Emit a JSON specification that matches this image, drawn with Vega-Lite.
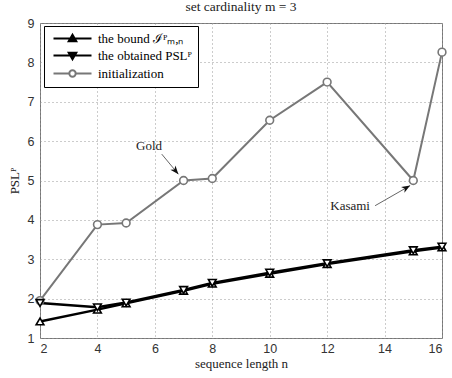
{
  "$schema": "https://vega.github.io/schema/vega-lite/v6.json",
  "width": 402,
  "height": 315,
  "autosize": {"type": "none"},
  "padding": {"left": 40, "top": 23, "right": 10, "bottom": 40},
  "background": "white",
  "title": {"text": "set cardinality m = 3", "font": "Liberation Serif", "fontSize": 13.5, "fontWeight": "normal", "color": "#222", "offset": 4},
  "config": {"view": {"stroke": "#777", "strokeWidth": 1}},
  "datasets": {
    "series": [
      {"n": 2, "psl": 1.42, "series": "the bound ℐᴾₘ,ₙ"},
      {"n": 4, "psl": 1.72, "series": "the bound ℐᴾₘ,ₙ"},
      {"n": 5, "psl": 1.88, "series": "the bound ℐᴾₘ,ₙ"},
      {"n": 7, "psl": 2.2, "series": "the bound ℐᴾₘ,ₙ"},
      {"n": 8, "psl": 2.38, "series": "the bound ℐᴾₘ,ₙ"},
      {"n": 10, "psl": 2.63, "series": "the bound ℐᴾₘ,ₙ"},
      {"n": 12, "psl": 2.88, "series": "the bound ℐᴾₘ,ₙ"},
      {"n": 15, "psl": 3.2, "series": "the bound ℐᴾₘ,ₙ"},
      {"n": 16, "psl": 3.3, "series": "the bound ℐᴾₘ,ₙ"},
      {"n": 2, "psl": 1.89, "series": "the obtained PSLᴾ"},
      {"n": 4, "psl": 1.78, "series": "the obtained PSLᴾ"},
      {"n": 5, "psl": 1.9, "series": "the obtained PSLᴾ"},
      {"n": 7, "psl": 2.22, "series": "the obtained PSLᴾ"},
      {"n": 8, "psl": 2.4, "series": "the obtained PSLᴾ"},
      {"n": 10, "psl": 2.66, "series": "the obtained PSLᴾ"},
      {"n": 12, "psl": 2.9, "series": "the obtained PSLᴾ"},
      {"n": 15, "psl": 3.23, "series": "the obtained PSLᴾ"},
      {"n": 16, "psl": 3.32, "series": "the obtained PSLᴾ"},
      {"n": 2, "psl": 1.95, "series": "initialization"},
      {"n": 4, "psl": 3.88, "series": "initialization"},
      {"n": 5, "psl": 3.92, "series": "initialization"},
      {"n": 7, "psl": 5.0, "series": "initialization"},
      {"n": 8, "psl": 5.05, "series": "initialization"},
      {"n": 10, "psl": 6.53, "series": "initialization"},
      {"n": 12, "psl": 7.5, "series": "initialization"},
      {"n": 15, "psl": 5.0, "series": "initialization"},
      {"n": 16, "psl": 8.26, "series": "initialization"}
    ],
    "notes": [
      {"label": "Gold", "n": 5.8, "psl": 5.88},
      {"label": "Kasami", "n": 12.8, "psl": 4.36}
    ],
    "arrows": [
      {"label": "Gold", "n": 6.24, "psl": 5.67, "n2": 6.82, "psl2": 5.16},
      {"label": "Kasami", "n": 13.67, "psl": 4.36, "n2": 14.89, "psl2": 4.87}
    ]
  },
  "encoding": {
    "x": {"field": "n", "type": "quantitative",
      "scale": {"domain": [2, 16], "nice": false, "zero": false},
      "axis": {"values": [2, 4, 6, 8, 10, 12, 14, 16], "tickCount": 8, "title": "sequence length n",
        "titleFont": "Liberation Serif", "titleFontWeight": "normal", "titleFontSize": 13, "titleColor": "#222",
        "labelFont": "Liberation Sans", "labelFontSize": 12.5, "labelColor": "#333", "labelOverlap": false,
        "domain": false, "ticks": false, "grid": true, "gridDash": [1, 3], "gridColor": "#999",
        "labelPadding": 4, "titlePadding": 3}},
    "y": {"field": "psl", "type": "quantitative",
      "scale": {"domain": [1, 9], "nice": false, "zero": false},
      "axis": {"values": [1, 2, 3, 4, 5, 6, 7, 8, 9], "tickCount": 9, "title": "PSLᴾ",
        "titleFont": "Liberation Serif", "titleFontWeight": "normal", "titleFontSize": 13, "titleColor": "#222",
        "labelFont": "Liberation Sans", "labelFontSize": 12.5, "labelColor": "#333", "labelOverlap": false,
        "domain": false, "ticks": false, "grid": true, "gridDash": [1, 3], "gridColor": "#999",
        "labelPadding": 6, "titlePadding": 6}}
  },
  "layer": [
    {
      "data": {"name": "series"},
      "transform": [{"filter": "datum.series === 'initialization'"}],
      "mark": {"type": "line", "color": "#777", "strokeWidth": 2}
    },
    {
      "data": {"name": "series"},
      "transform": [{"filter": "datum.series !== 'initialization'"}],
      "mark": {"type": "line", "color": "#000", "strokeWidth": 2.5},
      "encoding": {
        "detail": {"field": "series", "type": "nominal"}
      }
    },
    {
      "data": {"name": "series"},
      "transform": [{"filter": "datum.series === 'initialization'"}],
      "mark": {"type": "point", "shape": "circle", "filled": false, "fill": "white", "color": "#777", "size": 60, "strokeWidth": 1.6, "opacity": 1}
    },
    {
      "data": {"name": "series"},
      "transform": [{"filter": "datum.series === 'the bound ℐᴾₘ,ₙ'"}],
      "mark": {"type": "point", "shape": "triangle-up", "filled": false, "fill": "white", "color": "#000", "size": 60, "strokeWidth": 1.6, "opacity": 1}
    },
    {
      "data": {"name": "series"},
      "transform": [{"filter": "datum.series === 'the obtained PSLᴾ'"}],
      "mark": {"type": "point", "shape": "triangle-down", "filled": false, "fill": "white", "color": "#000", "size": 60, "strokeWidth": 1.6, "opacity": 1}
    },
    {
      "data": {"name": "series"},
      "mark": {"type": "point", "opacity": 0},
      "encoding": {
        "fill": {"field": "series", "type": "nominal",
          "scale": {"domain": ["the bound ℐᴾₘ,ₙ", "the obtained PSLᴾ", "initialization"], "range": ["#000000", "#000000", "#ffffff"]},
          "legend": {"title": null, "orient": "none", "legendX": 4, "legendY": 3, "padding": 6,
            "strokeColor": "#000", "fillColor": "white", "labelFont": "Liberation Serif", "labelFontSize": 13,
            "labelColor": "#000", "symbolSize": 64, "symbolOpacity": 1, "symbolStrokeWidth": 2,
            "rowPadding": 2, "labelOffset": 35, "labelLimit": 300}},
        "stroke": {"field": "series", "type": "nominal",
          "scale": {"domain": ["the bound ℐᴾₘ,ₙ", "the obtained PSLᴾ", "initialization"], "range": ["#000000", "#000000", "#777777"]},
          "legend": {"title": null, "orient": "none", "legendX": 4, "legendY": 3, "padding": 6,
            "strokeColor": "#000", "fillColor": "white", "labelFont": "Liberation Serif", "labelFontSize": 13,
            "labelColor": "#000", "symbolSize": 64, "symbolOpacity": 1, "symbolStrokeWidth": 2,
            "rowPadding": 2, "labelOffset": 35, "labelLimit": 300}},
        "shape": {"field": "series", "type": "nominal",
          "scale": {"domain": ["the bound ℐᴾₘ,ₙ", "the obtained PSLᴾ", "initialization"],
            "range": ["M-0.75,0H8.75M4,-0.95L4.95,0.7L3.05,0.7Z", "M-0.75,0H8.75M4,0.95L4.95,-0.7L3.05,-0.7Z", "M-0.75,0H3.2M4.8,0H8.75M4.8,0A0.8,0.8 0 1,1 3.2,0A0.8,0.8 0 1,1 4.8,0Z"]},
          "legend": {"title": null, "orient": "none", "legendX": 4, "legendY": 3, "padding": 6,
            "strokeColor": "#000", "fillColor": "white", "labelFont": "Liberation Serif", "labelFontSize": 13,
            "labelColor": "#000", "symbolSize": 64, "symbolOpacity": 1, "symbolStrokeWidth": 2,
            "rowPadding": 2, "labelOffset": 35, "labelLimit": 300}}
      }
    },
    {
      "data": {"name": "arrows"},
      "mark": {"type": "rule", "color": "#666", "strokeWidth": 1},
      "encoding": {
        "x2": {"field": "n2"},
        "y2": {"field": "psl2"}
      }
    },
    {
      "data": {"name": "arrows"},
      "transform": [{"filter": "datum.label === 'Gold'"}],
      "mark": {"type": "point", "filled": true, "color": "#111", "opacity": 1, "size": 90, "angle": 140,
        "shape": "M0,0L0.7,1.8L0,1.3L-0.7,1.8Z"},
      "encoding": {
        "x": {"field": "n2", "type": "quantitative"},
        "y": {"field": "psl2", "type": "quantitative"}
      }
    },
    {
      "data": {"name": "arrows"},
      "transform": [{"filter": "datum.label === 'Kasami'"}],
      "mark": {"type": "point", "filled": true, "color": "#111", "opacity": 1, "size": 90, "angle": 60,
        "shape": "M0,0L0.7,1.8L0,1.3L-0.7,1.8Z"},
      "encoding": {
        "x": {"field": "n2", "type": "quantitative"},
        "y": {"field": "psl2", "type": "quantitative"}
      }
    },
    {
      "data": {"name": "notes"},
      "mark": {"type": "text", "font": "Liberation Serif", "fontSize": 13, "color": "#222"},
      "encoding": {
        "text": {"field": "label"}
      }
    }
  ]
}
